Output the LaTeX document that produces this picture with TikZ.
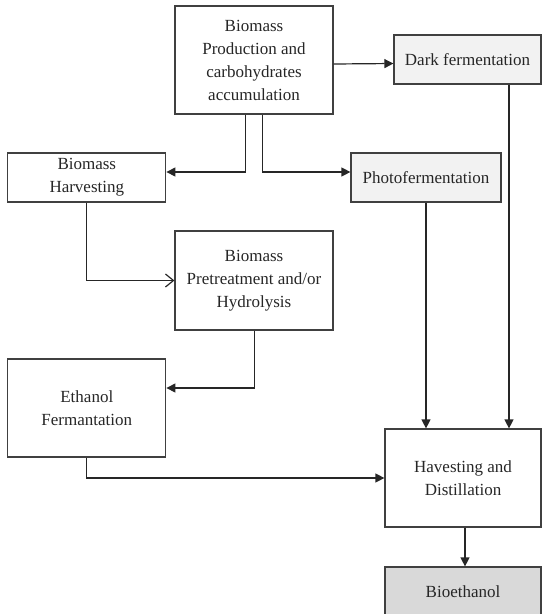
\documentclass[tikz,border=0pt]{standalone}
\usepackage{fontspec}
\setmainfont{Liberation Serif}
\usetikzlibrary{arrows.meta,calc}
\definecolor{lightbox}{HTML}{F2F2F2}
\definecolor{darkbox}{HTML}{D9D9D9}
\definecolor{edge}{HTML}{404040}
\begin{document}
\begin{tikzpicture}[x=1pt,y=-1pt,
  box/.style={draw=edge,line width=1.2pt,rectangle,inner sep=2pt,align=center,
    text=black!85,font=\fontsize{17}{23}\selectfont},
  arr/.style={line width=1.2pt,draw=black!85,-{Triangle[length=9pt,width=9pt]}},
  openarr/.style={line width=1.2pt,draw=black!85,-{Straight Barb[length=8pt,width=13pt,line width=1.2pt]}}]
\useasboundingbox (0,0) rectangle (542,614);
\node[box,minimum width=158pt,minimum height=108pt] (A) at (254,60)
  {Biomass\\Production and\\carbohydrates\\accumulation};
\node[box,fill=lightbox,minimum width=147pt,minimum height=49pt] (D) at (467.5,59.5) {Dark fermentation};
\node[box,minimum width=158pt,minimum height=49pt] (H) at (86.8,177.5) {Biomass\\Harvesting};
\node[box,fill=lightbox,minimum width=150pt,minimum height=49pt] (P) at (426,177.5) {Photofermentation};
\node[box,minimum width=158pt,minimum height=99pt] (T) at (254,280.5) {Biomass\\Pretreatment and/or\\Hydrolysis};
\node[box,minimum width=158pt,minimum height=98pt] (E) at (86.8,408) {Ethanol\\Fermantation};
\node[box,minimum width=156pt,minimum height=98pt] (V) at (463,478) {Havesting and\\Distillation};
\node[box,fill=darkbox,minimum width=156pt,minimum height=49pt] (B) at (463,591.5) {Bioethanol};
\draw[arr] ([yshift=-4pt]A.east) -- ([yshift=-4pt]D.west);
\draw[arr] ([xshift=-8.6pt]A.south) |- ([yshift=5.5pt]H.east);
\draw[arr] ([xshift=8.7pt]A.south) |- ([yshift=5.5pt]P.west);
\draw[openarr] (H.south) |- (T.west);
\draw[arr] ([xshift=0.8pt]T.south) |- ([yshift=20pt]E.east);
\draw[arr] (E.south) |- (V.west);
\draw[arr] (P.south) -- (P.south |- V.north);
\coordinate (dk) at ([xshift=41.5pt]D.south);
\draw[arr] (dk) -- (dk |- V.north);
\draw[arr] ([xshift=2pt]V.south) -- ([xshift=2pt]B.north);
\end{tikzpicture}
\end{document}
